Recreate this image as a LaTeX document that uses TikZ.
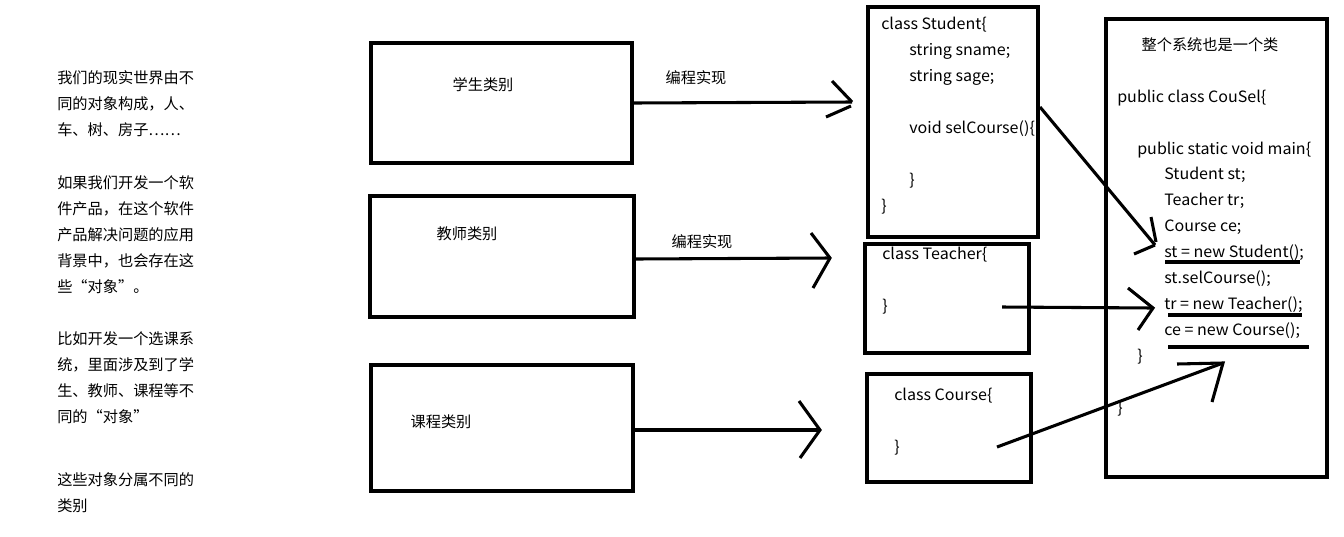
\documentclass[tikz,border=0pt]{standalone}
\usepackage{fontspec}
\setmainfont{Noto Sans CJK SC}
\newfontfamily\codefont[FakeStretch=1.03]{Noto Sans CJK SC}
\usetikzlibrary{fit}
\tikzset{
  box/.style={draw, line width=2.4pt, inner sep=0pt},
  txt/.style={anchor=base west, inner sep=0pt, font=\fontsize{11.4pt}{13pt}\selectfont},
  code/.style={anchor=base west, inner sep=0pt, font=\codefont\fontsize{11.7pt}{13pt}\selectfont},
  ctxt/.style={anchor=base, inner sep=0pt, font=\fontsize{11.4pt}{13pt}\selectfont},
  stroke/.style={line width=2.3pt},
}
\begin{document}
\begin{tikzpicture}[x=0.75pt,y=-0.75pt]
\useasboundingbox[fill=white] (0,0) rectangle (1344,536);

% left description
\foreach \t/\y in {我们的现实世界由不/78, 同的对象构成，人、/104, 车、树、房子……/130,
  如果我们开发一个软/183, 件产品，在这个软件/209, 产品解决问题的应用/235, 背景中，也会存在这/261, 些“对象”。/287,
  比如开发一个选课系/339, 统，里面涉及到了学/365, 生、教师、课程等不/391, 同的“对象”/417,
  这些对象分属不同的/480, 类别/506}
  \node[txt] at (57,\y+5.5) {\t};

% left category boxes
\node[box, fit={(371,43)(632,163)}] (stu) {};
\node[box, fit={(370,196)(634,317)}] (tea) {};
\node[box, fit={(371,365)(633,491)}] (cou) {};
\node[ctxt] (stul) at (483,90.5) {学生类别};
\node[ctxt] (teal) at (467,239.5) {教师类别};
\node[ctxt] (coul) at (441,427.5) {课程类别};

% class boxes
\node[box, fit={(868,7)(1038,237)}] (cstu) {};
\node[box, fit={(865,244)(1029,353)}] (ctea) {};
\node[box, fit={(867,374)(1031,482)}] (ccou) {};
\node[box, fit={(1106,19)(1327,477)}] (sys) {};

\node[code] at (881,29.5) {class Student\{};
\node[code] at (909,55.5) {string sname;};
\node[code] at (909,81.5) {string sage;};
\node[code] at (909,133.5) {void selCourse()\{};
\node[code] at (909,185.5) {\}};
\node[code] at (881,211.5) {\}};

\node[code] at (882,259.5) {class Teacher\{};
\node[code] at (882,311.5) {\}};
\node[code] at (894,400.5) {class Course\{};
\node[code] at (894,452.5) {\}};

\node[ctxt] at (1210,50.5) {整个系统也是一个类};
\node[code] at (1117,102.5) {public class CouSel\{};
\node[code] at (1137,154.5) {public static void main\{};
\node[code] at (1164,179.5) {Student st;};
\node[code] at (1164,205.5) {Teacher tr;};
\node[code] at (1164,231.5) {Course ce;};
\node[code] at (1164,257.5) {st = new Student();};
\node[code] at (1164,283.5) {st.selCourse();};
\node[code] at (1164,309.5) {tr = new Teacher();};
\node[code] at (1164,335.5) {ce = new Course();};
\node[code] at (1137,361.5) {\}};
\node[code] at (1117,413.5) {\}};

% underlines
\draw[stroke] (1165,262) -- (1300,262);
\draw[stroke] (1168,315) -- (1302,315);
\draw[stroke] (1168,347) -- (1309,347);

% labels on arrows
\node[ctxt] at (696,83) {编程实现};
\node[ctxt] at (702,247) {编程实现};

% named endpoints
\coordinate (t1) at (852,102);
\coordinate (t2) at (830,258);
\coordinate (t3) at (820,430);
\coordinate (s1) at (1040,107);
\coordinate (t4) at (1155,245);
\coordinate (s2) at (1002,307);
\coordinate (t5) at (1153,308);
\coordinate (s3) at (997,447);
\coordinate (t6) at (1223,363);

% arrows from category boxes to class boxes
\draw[stroke] (stu.east |- 0,103) -- (t1);
\draw[stroke] (832,81) -- (t1) (826,117) -- (851,106);
\draw[stroke] (tea.east |- 0,259) -- (t2);
\draw[stroke] (811,233) -- (t2) -- (813,288);
\draw[stroke] (cou.east |- 0,430) -- (t3);
\draw[stroke] (799,401) -- (t3) -- (800,458);

% arrows into system class
\draw[stroke] (s1) -- (t4);
\draw[stroke] (1151,217) -- (1156,242) (1134,254) -- (t4);
\draw[stroke] (s2) -- (t5);
\draw[stroke] (1128,288) -- (t5) -- (1138,330);
\draw[stroke] (s3) -- (t6);
\draw[stroke] (1177,364) -- (t6) -- (1212,402);
\end{tikzpicture}
\end{document}
